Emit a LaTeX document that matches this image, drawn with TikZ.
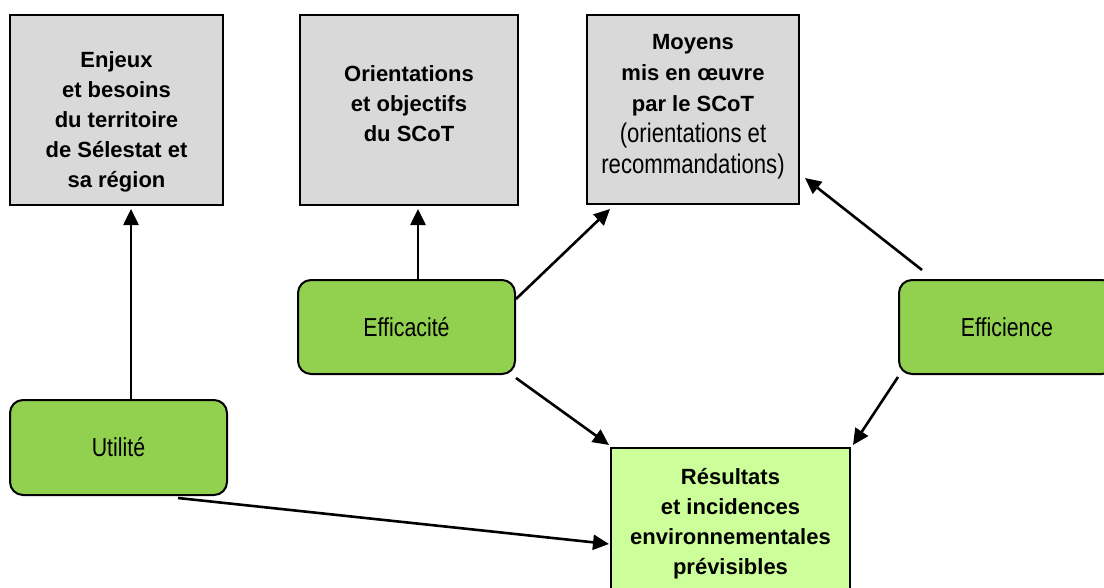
\documentclass[tikz,border=0pt]{standalone}
\usepackage{fontspec}
\setmainfont{Liberation Sans}
\newfontfamily\narrowfont[FakeStretch=0.82]{Liberation Sans}
\usetikzlibrary{arrows.meta,calc}
\definecolor{boxgray}{HTML}{D9D9D9}
\definecolor{boxgreen}{HTML}{92D050}
\definecolor{boxlight}{HTML}{CCFF99}
\begin{document}
\begin{tikzpicture}[x=1pt,y=-1pt,
  graybox/.style={draw=black,line width=2pt,fill=boxgray,inner sep=0pt},
  greenbox/.style={draw=black,line width=2pt,fill=boxgreen,rounded corners=13pt,inner sep=0pt},
  lightbox/.style={draw=black,line width=2pt,fill=boxlight,inner sep=0pt},
  label/.style={align=center,inner sep=0pt,text=black},
  boldtext/.style={label,font=\bfseries\fontsize{22}{30}\selectfont},
  normtext/.style={label,font=\narrowfont\fontsize{26}{30}\selectfont},
  arr/.style={line width=2.6pt,-{Triangle[length=16pt,width=15pt]}}]
\useasboundingbox (0,0) rectangle (1104,587);
% boxes
\node[graybox,minimum width=213pt,minimum height=190pt] (enjeux) at (116.5,110) {};
\node[graybox,minimum width=218pt,minimum height=190pt] (orient) at (409,110) {};
\node[graybox,minimum width=212pt,minimum height=189pt] (moyens) at (693,109.5) {};
\node[greenbox,minimum width=217pt,minimum height=94pt] (efficacite) at (406.5,327) {};
\node[greenbox,minimum width=217pt,minimum height=95pt] (utilite) at (118.5,447.5) {};
\node[greenbox,minimum width=216pt,minimum height=94pt] (efficience) at (1007,327) {};
\node[lightbox,minimum width=239pt,minimum height=147pt] (resultats) at (730.5,521.5) {};
% texts
\node[boldtext] (enjeuxT) at (116.5,122) {Enjeux\\et besoins\\du territoire\\de Sélestat et\\sa région};
\node[boldtext] (orientT) at (409,104) {Orientations\\et objectifs\\du SCoT};
\node[label,font=\bfseries\fontsize{22}{31}\selectfont] (moyensT) at (693,107) {Moyens\\mis en œuvre\\par le SCoT\\\mdseries\narrowfont\fontsize{27}{31}\selectfont (orientations et\\\mdseries\narrowfont\fontsize{27}{31}\selectfont recommandations)};
\node[normtext] (efficaciteT) at (406.5,327) {Efficacité};
\node[normtext] (utiliteT) at (118.5,447) {Utilité};
\node[normtext] (efficienceT) at (1007,327) {Efficience};
\node[boldtext] (resultatsT) at (730.5,524) {Résultats\\et incidences\\environnementales\\prévisibles};
% arrows
\draw[arr] ([shift={(12.5,0)}]utilite.north) -- ([shift={(14.5,3)}]enjeux.south);
\draw[arr] ([shift={(11.5,0)}]efficacite.north) -- ([shift={(9,3)}]orient.south);
\draw[arr] ([shift={(0,20)}]efficacite.north east) -- ([shift={(24,4)}]moyens.south west);
\draw[arr] ([shift={(0,3)}]efficacite.south east) -- ([shift={(-1,-2)}]resultats.north west);
\draw[arr] ([shift={(24,-9)}]efficience.north west) -- ([shift={(5,-27)}]moyens.south east);
\draw[arr] ([shift={(0,2)}]efficience.south west) -- ([shift={(2,-2)}]resultats.north east);
\draw[arr] ([shift={(59.5,2)}]utilite.south) -- ([shift={(-1,22.5)}]resultats.west);
\end{tikzpicture}
\end{document}
